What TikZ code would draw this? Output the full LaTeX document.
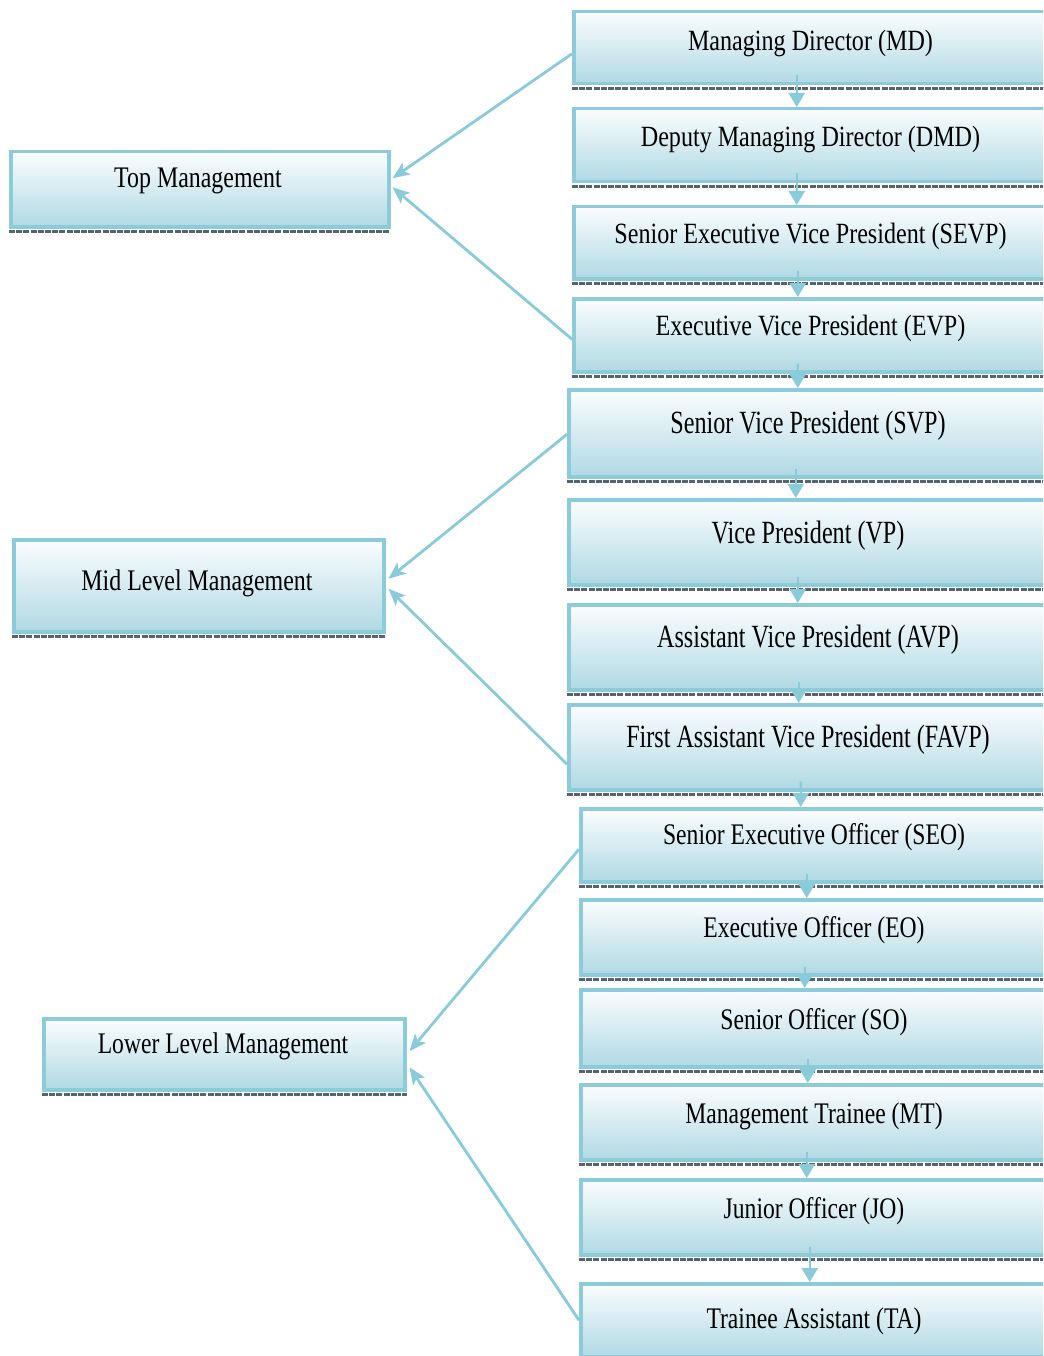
\documentclass[tikz,border=0pt]{standalone}
\usepackage{fontspec}
\setmainfont{Liberation Serif}
\newfontfamily\famA{Liberation Serif}[FakeStretch=0.82]
\newfontfamily\famB{Liberation Serif}[FakeStretch=0.745]
\newfontfamily\famC{Liberation Serif}[FakeStretch=0.79]
\newfontfamily\famD{Liberation Serif}[FakeStretch=0.80]
\newcommand\txtA{\famA\fontsize{29.5}{31}\selectfont}
\newcommand\txtB{\famB\fontsize{32.5}{34}\selectfont}
\newcommand\txtC{\famC\fontsize{30}{32}\selectfont}
\newcommand\txtD{\famD\fontsize{30}{32}\selectfont}
\usetikzlibrary{arrows.meta,calc}
\definecolor{bord}{RGB}{140,204,218}
\definecolor{filltop}{RGB}{251,253,254}
\definecolor{fillbot}{RGB}{176,217,228}
\definecolor{shad}{RGB}{85,100,110}
\definecolor{conc}{RGB}{138,203,217}
\tikzset{
  orgbox/.style={draw=bord, line width=3.5bp, top color=filltop, bottom color=fillbot,
    anchor=north west, inner sep=0pt},
  shadowbar/.style={draw=shad, line width=3.5bp, dash pattern=on 6bp off 1.2bp},
  lbl/.style={anchor=base, inner sep=0pt, text=black},
  conn/.style={draw=conc, line width=2.8bp, -{Stealth[length=17bp,width=14bp,inset=4bp]}},
  varrow/.style={draw=conc, line width=2.4bp, -{Triangle[length=14bp,width=16bp]}}
}
\begin{document}
\begin{tikzpicture}[x=1bp,y=-1bp]
\useasboundingbox (0,0) rectangle (1043,1356);
\clip (0,0) rectangle (1043,1356);
\fill[white] (0,0) rectangle (1043,1356);
% right column
\node[orgbox, minimum width=477bp, minimum height=72bp] (md)   at (572,10) {};
\node[orgbox, minimum width=477bp, minimum height=73bp] (dmd)  at (572,107) {};
\node[orgbox, minimum width=477bp, minimum height=72bp] (sevp) at (572,205) {};
\node[orgbox, minimum width=477bp, minimum height=73bp] (evp)  at (572,297) {};
\node[orgbox, minimum width=482bp, minimum height=87bp] (svp)  at (567,388) {};
\node[orgbox, minimum width=482bp, minimum height=85bp] (vp)   at (567,498) {};
\node[orgbox, minimum width=482bp, minimum height=85bp] (avp)  at (567,603) {};
\node[orgbox, minimum width=482bp, minimum height=85bp] (favp) at (567,703) {};
\node[orgbox, minimum width=470bp, minimum height=73bp] (seo)  at (579,807) {};
\node[orgbox, minimum width=470bp, minimum height=75bp] (eo)   at (579,898) {};
\node[orgbox, minimum width=470bp, minimum height=77bp] (so)   at (579,988) {};
\node[orgbox, minimum width=470bp, minimum height=75bp] (mt)   at (579,1083) {};
\node[orgbox, minimum width=470bp, minimum height=75bp] (jo)   at (579,1178) {};
\node[orgbox, minimum width=470bp, minimum height=73bp] (ta)   at (579,1282) {};
% left column
\node[orgbox, minimum width=378bp, minimum height=75bp] (tm)  at (9,150) {};
\node[orgbox, minimum width=370bp, minimum height=92bp] (mid) at (12,538) {};
\node[orgbox, minimum width=361bp, minimum height=71bp] (low) at (42,1017) {};
% shadows
\foreach \n in {md,dmd,sevp,evp,svp,vp,avp,favp,seo,eo,so,mt,jo,ta,tm,mid,low}
  \draw[shadowbar] ([yshift=-2.8bp]\n.south west) -- ([yshift=-2.8bp]\n.south east);
% texts
\node[lbl, font=\txtA] (mdt)   at (810.5,51)  {Managing Director (MD)};
\node[lbl, font=\txtA] (dmdt)  at (810.5,147) {Deputy Managing Director (DMD)};
\node[lbl, font=\txtA] (sevpt) at (810.5,244) {Senior Executive Vice President (SEVP)};
\node[lbl, font=\txtA] (evpt)  at (810.5,335) {Executive Vice President (EVP)};
\node[lbl, font=\txtB] (svpt)  at (808,433)   {Senior Vice President (SVP)};
\node[lbl, font=\txtB] (vpt)   at (808,543)   {Vice President (VP)};
\node[lbl, font=\txtB] (avpt)  at (808,647)   {Assistant Vice President (AVP)};
\node[lbl, font=\txtB] (favpt) at (808,747)   {First Assistant Vice President (FAVP)};
\node[lbl, font=\txtC] (seot)  at (814,844)   {Senior Executive Officer (SEO)};
\node[lbl, font=\txtC] (eot)   at (814,937)   {Executive Officer (EO)};
\node[lbl, font=\txtC] (sot)   at (814,1029)  {Senior Officer (SO)};
\node[lbl, font=\txtC] (mtt)   at (814,1123)  {Management Trainee (MT)};
\node[lbl, font=\txtC] (jot)   at (814,1218)  {Junior Officer (JO)};
\node[lbl, font=\txtC] (tat)   at (814,1328)  {Trainee Assistant (TA)};
\node[lbl, font=\txtD] (tmt)   at (198,188)   {Top Management};
\node[lbl, font=\txtD] (midt)  at (197,590)   {Mid Level Management};
\node[lbl, font=\txtC] (lowt)  at (223,1053)  {Lower Level Management};
% vertical arrows
\draw[varrow] ([xshift=-15.5bp,yshift=10bp]md.south)   -- ([xshift=-15.5bp]dmd.north);
\draw[varrow] ([xshift=-15.5bp,yshift=10bp]dmd.south)  -- ([xshift=-15.5bp]sevp.north);
\draw[varrow] ([xshift=-14.5bp,yshift=10bp]sevp.south) -- ([xshift=-14.5bp]evp.north);
\draw[varrow] ([xshift=-14.5bp,yshift=10bp]evp.south)  -- ([xshift=-12bp]svp.north);
\draw[varrow] ([xshift=-14bp,yshift=10bp]svp.south)    -- ([xshift=-14bp]vp.north);
\draw[varrow] ([xshift=-12bp,yshift=10bp]vp.south)     -- ([xshift=-12bp]avp.north);
\draw[varrow] ([xshift=-11bp,yshift=10bp]avp.south)    -- ([xshift=-11bp]favp.north);
\draw[varrow] ([xshift=-9bp,yshift=10bp]favp.south)    -- ([xshift=-15bp]seo.north);
\draw[varrow] ([xshift=-9bp,yshift=10bp]seo.south)     -- ([xshift=-9bp]eo.north);
\draw[varrow] ([xshift=-11bp,yshift=10bp]eo.south)     -- ([xshift=-11bp]so.north);
\draw[varrow] ([xshift=-8bp,yshift=10bp]so.south)      -- ([xshift=-8bp]mt.north);
\draw[varrow] ([xshift=-9bp,yshift=10bp]mt.south)      -- ([xshift=-9bp]jo.north);
\draw[varrow] ([xshift=-6bp,yshift=10bp]jo.south)      -- ([xshift=-6bp]ta.north);
% connectors to the left boxes
\draw[conn] ($(md.west)+(0,6)$)   -- ($(tm.east)+(2,-11)$);
\draw[conn] ($(evp.west)+(0,4)$)  -- ($(tm.east)+(2,-2)$);
\draw[conn] ($(svp.west)+(0,1)$)  -- ($(mid.east)+(3,-7)$);
\draw[conn] ($(favp.west)+(0,17)$) -- ($(mid.east)+(3,3)$);
\draw[conn] ($(seo.west)+(0,4)$)  -- ($(low.east)+(3,-3)$);
\draw[conn] ($(ta.west)+(0,0)$)   -- ($(low.east)+(3,13)$);
\end{tikzpicture}
\end{document}
